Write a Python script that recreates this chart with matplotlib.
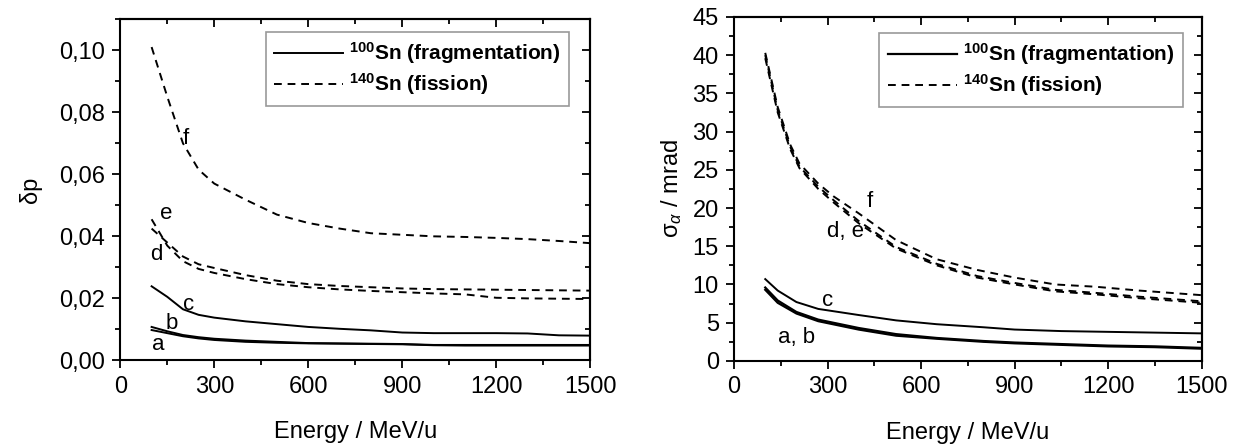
import matplotlib.pyplot as plt
from matplotlib.ticker import MultipleLocator, FuncFormatter

plt.rcParams['font.family'] = ['Liberation Sans', 'DejaVu Sans']
plt.rcParams['mathtext.fontset'] = 'custom'
plt.rcParams['mathtext.rm'] = 'Liberation Sans'
plt.rcParams['mathtext.it'] = 'Liberation Sans:italic'
plt.rcParams['mathtext.bf'] = 'Liberation Sans:bold'

# ---- left panel: momentum spread dp ----
E_dp = [100, 150, 200, 250, 300, 400, 500, 600, 700, 800, 900, 1000, 1100, 1200, 1300, 1400, 1500]
dp_f = [0.101, 0.085, 0.070, 0.0615, 0.057, 0.0518, 0.047, 0.0443, 0.0425, 0.041, 0.0405, 0.0400, 0.0398, 0.0395, 0.0391, 0.0385, 0.0378]
dp_d = [0.0425, 0.038, 0.0335, 0.031, 0.0298, 0.0275, 0.0257, 0.0246, 0.0240, 0.0236, 0.0232, 0.0230, 0.0229, 0.0228, 0.0227, 0.0226, 0.0225]
dp_e = [0.0455, 0.037, 0.032, 0.0295, 0.0282, 0.0262, 0.0246, 0.0236, 0.0229, 0.0224, 0.0220, 0.0216, 0.0213, 0.0202, 0.0200, 0.0199, 0.0198]
dp_c = [0.0239, 0.0205, 0.0165, 0.0147, 0.0138, 0.0126, 0.0117, 0.0108, 0.0102, 0.0097, 0.0090, 0.0088, 0.0088, 0.0088, 0.0087, 0.0081, 0.0080]
dp_b = [0.0108, 0.0094, 0.0082, 0.0075, 0.0070, 0.0064, 0.0060, 0.0056, 0.0055, 0.0054, 0.0053, 0.0050, 0.0050, 0.0050, 0.0050, 0.0050, 0.0050]
dp_a = [0.0098, 0.0088, 0.0078, 0.0071, 0.0066, 0.0060, 0.0057, 0.0055, 0.0054, 0.0053, 0.0052, 0.0049, 0.0048, 0.0048, 0.0048, 0.0048, 0.0048]

# ---- right panel: angular spread sigma_alpha ----
E_sa = [100, 140, 180, 210, 270, 320, 400, 520, 650, 780, 900, 1030, 1160, 1300, 1500]
sa_f = [40.3, 33.2, 28.3, 25.8, 23.2, 21.5, 19.3, 15.8, 13.3, 11.9, 10.9, 10.0, 9.7, 9.2, 8.6]
sa_d = [40.0, 32.8, 28.0, 25.4, 22.8, 21.0, 18.3, 14.9, 12.7, 11.1, 10.2, 9.3, 8.9, 8.4, 7.8]
sa_e = [39.6, 32.5, 27.7, 25.2, 22.5, 20.7, 18.0, 14.7, 12.5, 10.9, 10.0, 9.1, 8.7, 8.2, 7.6]
E_sc = [100, 140, 200, 270, 400, 520, 650, 800, 900, 1050, 1200, 1350, 1500]
sa_c = [10.7, 9.2, 7.7, 6.8, 6.0, 5.3, 4.8, 4.4, 4.1, 3.9, 3.8, 3.7, 3.6]
sa_b = [9.6, 7.9, 6.4, 5.4, 4.3, 3.5, 3.0, 2.6, 2.4, 2.2, 2.0, 1.9, 1.7]
sa_a = [9.3, 7.6, 6.2, 5.2, 4.1, 3.3, 2.9, 2.5, 2.3, 2.1, 1.9, 1.8, 1.6]

lbl_frag = r'$^{\mathbf{100}}$Sn (fragmentation)'
lbl_fis = r'$^{\mathbf{140}}$Sn (fission)'
dash = (0, (4, 3))
TICK = 17
LAB = 17

fig = plt.figure(figsize=(12.4, 4.45), dpi=100)
ax1 = fig.add_axes([0.097, 0.190, 0.379, 0.767])
ax2 = fig.add_axes([0.592, 0.189, 0.377, 0.773])

def style(ax, minor_y):
    ax.set_xlim(0, 1500)
    ax.xaxis.set_major_locator(MultipleLocator(300))
    ax.xaxis.set_minor_locator(MultipleLocator(150))
    ax.tick_params(which='both', direction='out', top=False, right=False, labelsize=TICK, width=1.3)
    ax.tick_params(which='major', length=6, pad=5)
    ax.tick_params(which='minor', length=3.5)
    sec_x = ax.secondary_xaxis('top')
    sec_y = ax.secondary_yaxis('right')
    sec_x.set_xticks(ax.xaxis.get_majorticklocs())
    sec_y.set_yticks(ax.yaxis.get_majorticklocs())
    sec_x.xaxis.set_minor_locator(MultipleLocator(150))
    sec_y.yaxis.set_minor_locator(MultipleLocator(minor_y))
    for s in (sec_x, sec_y):
        s.tick_params(which='major', direction='in', length=6, width=1.3)
        s.tick_params(which='minor', direction='in', length=3.5, width=1.3)
        for sp in s.spines.values():
            sp.set_linewidth(1.5)
    sec_x.set_xticklabels([])
    sec_y.set_yticklabels([])
    for sp in ax.spines.values():
        sp.set_linewidth(1.5)
    ax.set_xlabel('Energy / MeV/u', fontsize=LAB, labelpad=17)

def legend(ax, anchor):
    leg = ax.legend(loc='upper right', bbox_to_anchor=anchor, handlelength=3.3,
                    prop={'weight': 'bold', 'size': 15}, fancybox=False, edgecolor='#999999',
                    framealpha=1, borderpad=0.4, labelspacing=0.25, handletextpad=0.3,
                    borderaxespad=0)
    leg.get_frame().set_linewidth(1.2)

# left
ax1.set_ylim(0, 0.11)
ax1.yaxis.set_major_locator(MultipleLocator(0.02))
ax1.yaxis.set_minor_locator(MultipleLocator(0.01))
ax1.yaxis.set_major_formatter(FuncFormatter(lambda v, p: f'{v:.2f}'.replace('.', ',')))
style(ax1, 0.01)
ax1.plot(E_dp, dp_a, color='black', lw=1.4, label=lbl_frag)
ax1.plot(E_dp, dp_b, color='black', lw=1.4)
ax1.plot(E_dp, dp_c, color='black', lw=1.4)
ax1.plot(E_dp, dp_f, color='black', lw=1.4, ls=dash, label=lbl_fis)
ax1.plot(E_dp, dp_d, color='black', lw=1.4, ls=dash)
ax1.plot(E_dp, dp_e, color='black', lw=1.4, ls=dash)
ax1.set_ylabel('δp', fontsize=LAB, labelpad=12)
for t, x, y in (('f', 210, 0.0715), ('e', 148, 0.0475), ('d', 115, 0.034),
                ('c', 218, 0.018), ('b', 165, 0.0118), ('a', 120, 0.005)):
    ax1.text(x, y, t, fontsize=16, ha='center', va='center')
legend(ax1, (0.955, 0.962))

# right
ax2.set_ylim(0, 45)
ax2.yaxis.set_major_locator(MultipleLocator(5))
ax2.yaxis.set_minor_locator(MultipleLocator(2.5))
style(ax2, 2.5)
ax2.plot(E_sc, sa_a, color='black', lw=1.6, label=lbl_frag)
ax2.plot(E_sc, sa_b, color='black', lw=1.6)
ax2.plot(E_sc, sa_c, color='black', lw=1.4)
ax2.plot(E_sa, sa_f, color='black', lw=1.4, ls=dash, label=lbl_fis)
ax2.plot(E_sa, sa_d, color='black', lw=1.4, ls=dash)
ax2.plot(E_sa, sa_e, color='black', lw=1.4, ls=dash)
ax2.set_ylabel(r'σ$_\alpha$ / mrad', fontsize=LAB, labelpad=6)
for t, x, y in (('f', 435, 20.8), ('d, e', 357, 16.9), ('c', 300, 7.9), ('a, b', 200, 3.1)):
    ax2.text(x, y, t, fontsize=16, ha='center', va='center')
legend(ax2, (0.96, 0.953))

fig.savefig('out.png', dpi=100)
